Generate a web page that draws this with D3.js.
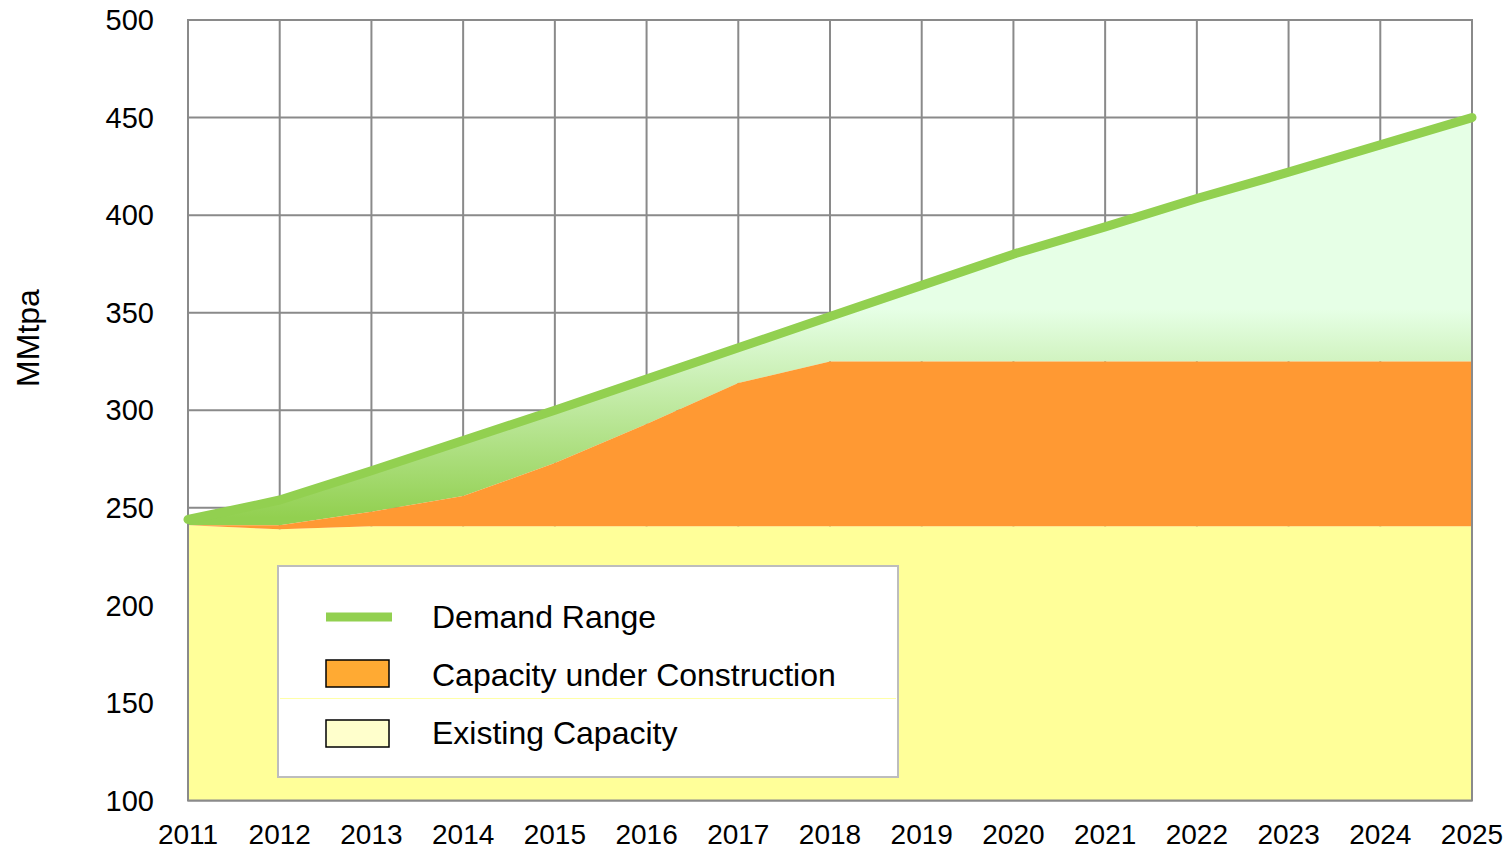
<!DOCTYPE html>
<html>
<head>
<meta charset="utf-8">
<script src="https://cdn.jsdelivr.net/npm/d3@7"></script>
<style>
  html, body { margin: 0; padding: 0; background: #fff; }
  svg { display: block; font-family: "Liberation Sans", Arial, sans-serif; }
</style>
</head>
<body>
<svg id="chart" width="1506" height="849"></svg>
<script>
// ---- data ----
const years = [2011, 2012, 2013, 2014, 2015, 2016, 2017, 2018, 2019, 2020, 2021, 2022, 2023, 2024, 2025];
const existingCapacity = [241, 239, 240.5, 240.5, 240.5, 240.5, 240.5, 240.5, 240.5, 240.5, 240.5, 240.5, 240.5, 240.5, 240.5];
const underConstruction = [0, 2, 7.5, 15.5, 32.5, 52.5, 73.5, 84.5, 84.5, 84.5, 84.5, 84.5, 84.5, 84.5, 84.5];
const demandRange = [244, 254, 269, 284.5, 300, 316, 332, 348, 364, 380, 394, 408.5, 422, 436, 450];
const yTicks = [100, 150, 200, 250, 300, 350, 400, 450, 500];
const legendLabels = ["Demand Range", "Capacity under Construction", "Existing Capacity"];
const yAxisTitle = "MMtpa";

// ---- layout ----
const svg = d3.select("#chart");
const x = d3.scaleLinear().domain([2011, 2025]).range([188, 1472]);
const y = d3.scaleLinear().domain([100, 500]).range([800.5, 20]);

const rows = years.map((yr, i) => ({
  year: yr,
  existing: existingCapacity[i],
  construction: underConstruction[i],
  demand: demandRange[i]
}));
const stack = d3.stack().keys(["existing", "construction"]);
const series = stack(rows);

// gradient for demand area
const defs = svg.append("defs");
const grad = defs.append("linearGradient")
  .attr("id", "greenGrad")
  .attr("gradientUnits", "userSpaceOnUse")
  .attr("x1", 0).attr("x2", 0)
  .attr("y1", y(352)).attr("y2", y(245));
grad.append("stop").attr("offset", "0%").attr("stop-color", "#e6ffe6");
grad.append("stop").attr("offset", "100%").attr("stop-color", "#92d050");

// grid
const gridColor = "#8a8a8a";
const grid = svg.append("g");
grid.selectAll("line.v").data(years).enter().append("line")
  .attr("x1", d => x(d)).attr("x2", d => x(d))
  .attr("y1", y(500)).attr("y2", y(100))
  .attr("stroke", gridColor).attr("stroke-width", 2);
grid.selectAll("line.h").data(yTicks).enter().append("line")
  .attr("x1", x(2011)).attr("x2", x(2025))
  .attr("y1", d => y(d)).attr("y2", d => y(d))
  .attr("stroke", gridColor).attr("stroke-width", 2);

// demand area (gradient) down to capacity top
const demandArea = d3.area()
  .x(d => x(d.year))
  .y0(d => y(d.existing + d.construction))
  .y1(d => y(d.demand));
svg.append("path").datum(rows)
  .attr("d", demandArea)
  .attr("fill", "url(#greenGrad)");

// stacked capacity areas
const capColors = ["#ffff99", "#ff9933"];
series.forEach((s, i) => {
  const gen = d3.area()
    .x(p => x(p.data.year))
    .y0(p => i === 0 ? y(100) : y(p[0]))
    .y1(p => y(p[1]));
  svg.append("path").datum(s)
    .attr("d", gen)
    .attr("fill", capColors[i]);
});

// frame on top
svg.append("rect")
  .attr("x", x(2011)).attr("y", y(500))
  .attr("width", x(2025) - x(2011)).attr("height", y(100) - y(500))
  .attr("fill", "none").attr("stroke", gridColor).attr("stroke-width", 2);

// demand line
const line = d3.line().x(d => x(d.year)).y(d => y(d.demand));
svg.append("path").datum(rows)
  .attr("d", line)
  .attr("fill", "none")
  .attr("stroke", "#92d050")
  .attr("stroke-width", 9)
  .attr("stroke-linecap", "round")
  .attr("stroke-linejoin", "round");

// axes labels
svg.append("g").selectAll("text").data(yTicks).enter().append("text")
  .attr("x", 154).attr("y", d => y(d))
  .attr("dy", "0.35em")
  .attr("text-anchor", "end")
  .attr("font-size", 29)
  .attr("fill", "#000")
  .text(d => d);

svg.append("g").selectAll("text").data(years).enter().append("text")
  .attr("x", d => x(d)).attr("y", 844)
  .attr("text-anchor", "middle")
  .attr("font-size", 28)
  .attr("fill", "#000")
  .text(d => d);

svg.append("text")
  .attr("transform", "translate(39,338) rotate(-90)")
  .attr("text-anchor", "middle")
  .attr("font-size", 32)
  .attr("fill", "#000")
  .text(yAxisTitle);

// legend
const lg = svg.append("g");
lg.append("rect")
  .attr("x", 278).attr("y", 566).attr("width", 620).attr("height", 211)
  .attr("fill", "#fff").attr("stroke", "#bdbdbd").attr("stroke-width", 2);
lg.append("line")
  .attr("x1", 280).attr("x2", 896).attr("y1", 698.5).attr("y2", 698.5)
  .attr("stroke", "#ffffa8").attr("stroke-width", 1);
lg.append("line")
  .attr("x1", 326).attr("x2", 392).attr("y1", 617).attr("y2", 617)
  .attr("stroke", "#92d050").attr("stroke-width", 9);
lg.append("rect")
  .attr("x", 326).attr("y", 660).attr("width", 63).attr("height", 27)
  .attr("fill", "#ffaa33").attr("stroke", "#000").attr("stroke-width", 1.5);
lg.append("rect")
  .attr("x", 326).attr("y", 720).attr("width", 63).attr("height", 27)
  .attr("fill", "#ffffcc").attr("stroke", "#000").attr("stroke-width", 1.5);
const legendY = [617, 675, 733];
lg.selectAll("text.l").data(legendLabels).enter().append("text")
  .attr("x", 432).attr("y", (d, i) => legendY[i])
  .attr("dy", "0.35em")
  .attr("font-size", 32)
  .attr("fill", "#000")
  .text(d => d);
</script>
</body>
</html>
